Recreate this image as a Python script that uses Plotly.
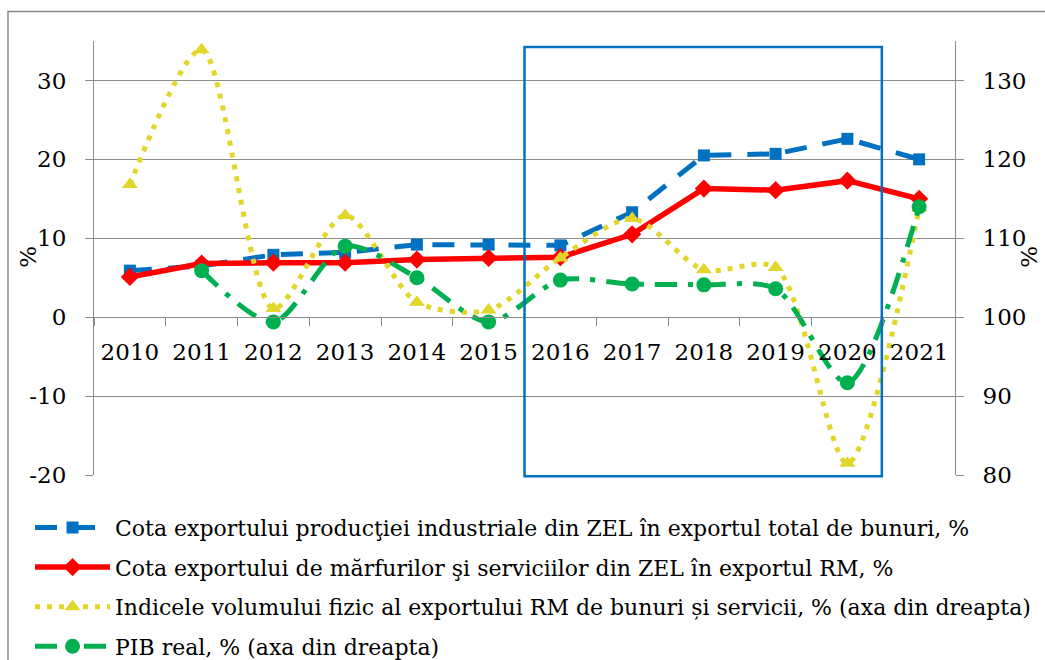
import plotly.graph_objects as go

years = ["2010", "2011", "2012", "2013", "2014", "2015", "2016", "2017", "2018", "2019", "2020", "2021"]
cota_productie = [5.9, 6.5, 7.9, 8.2, 9.2, 9.2, 9.1, 13.3, 20.5, 20.7, 22.6, 20.0]
cota_marfuri = [5.1, 6.8, 6.9, 6.9, 7.3, 7.5, 7.6, 10.5, 16.3, 16.1, 17.3, 15.0]
indice_volum = [116.8, 133.9, 101.1, 112.9, 101.9, 100.9, 107.5, 112.5, 106.0, 106.3, 81.5, 113.8]
pib_real = [None, 105.9, 99.4, 109.0, 105.0, 99.4, 104.7, 104.2, 104.1, 103.6, 91.7, 114.0]

left_ticks = [-20, -10, 0, 10, 20, 30]
left_ticktext = ["-20", "-10", "0", "10", "20", "30"]
right_ticks = [80, 90, 100, 110, 120, 130]
right_ticktext = ["80", "90", "100", "110", "120", "130"]

names = [
    "Cota exportului producţiei industriale din ZEL în exportul total de bunuri, %",
    "Cota exportului de mărfurilor şi serviciilor din ZEL în exportul RM, %",
    "Indicele volumului fizic al exportului RM de bunuri și servicii, % (axa din dreapta)",
    "PIB real, % (axa din dreapta)",
]

FONT = "DejaVu Serif"
GRID = "#8c8c8c"
BLUE = "#0070C0"
RED = "#FF0000"
YEL = "#E2D62A"
GRN = "#00B050"

fig = go.Figure()
fig.add_trace(go.Scatter(x=years, y=cota_productie, name=names[0], mode="lines+markers",
                         legendgroup="a",
                         line=dict(color=BLUE, width=5, dash="22px,16px"),
                         marker=dict(symbol="square", size=12, color=BLUE)))
fig.add_trace(go.Scatter(x=years, y=cota_marfuri, name=names[1], mode="lines+markers",
                         legendgroup="b",
                         line=dict(color=RED, width=5.5),
                         marker=dict(symbol="diamond", size=14, color=RED)))
fig.add_trace(go.Scatter(x=years, y=indice_volum, name=names[2], mode="lines+markers", yaxis="y2",
                         legendgroup="c",
                         line=dict(color=YEL, width=5, dash="5px,7px", shape="spline", smoothing=0.8),
                         marker=dict(symbol="triangle-up", size=14, color=YEL)))
fig.add_trace(go.Scatter(x=years, y=pib_real, name=names[3], mode="lines+markers", yaxis="y2",
                         legendgroup="d",
                         line=dict(color=GRN, width=5, dash="22px,11px,5px,11px", shape="spline", smoothing=0.8),
                         marker=dict(symbol="circle", size=15, color=GRN)))

fig.update_layout(
    width=1045, height=660,
    margin=dict(l=94, r=90, t=41, b=184.5, autoexpand=False),
    paper_bgcolor="white", plot_bgcolor="white",
    font=dict(family=FONT, size=23, color="black"),
    showlegend=True,
    legend=dict(orientation="v", x=-0.0743, xanchor="left", y=-0.073, yanchor="top",
                font=dict(family=FONT, size=22), itemwidth=75, bgcolor="rgba(0,0,0,0)",
                traceorder="grouped", tracegroupgap=8),
    xaxis=dict(type="category", range=[-0.5, 11.5], anchor="free", position=20 / 55,
               showgrid=False, showline=True, linecolor=GRID, linewidth=1,
               ticks="outside", ticklen=8, tickcolor=GRID, tickson="boundaries",
               tickfont=dict(size=23), ticklabelstandoff=14, automargin=False),
    yaxis=dict(range=[-20, 35], tickvals=left_ticks, ticktext=left_ticktext, showgrid=True,
               gridcolor=GRID, gridwidth=1, zeroline=False, showline=True, linecolor=GRID,
               ticks="outside", ticklen=8, tickcolor=GRID, tickfont=dict(size=23),
               ticklabelstandoff=14, automargin=False),
    yaxis2=dict(range=[80, 135], tickvals=right_ticks, ticktext=right_ticktext, overlaying="y",
                side="right", showgrid=False, zeroline=False, showline=True, linecolor=GRID,
                ticks="outside", ticklen=8, tickcolor=GRID, tickfont=dict(size=23),
                ticklabelstandoff=14, automargin=False),
    annotations=[
        dict(text="%", xref="paper", yref="paper", x=-0.0767, y=0.503, showarrow=False,
             textangle=-90, font=dict(size=23), xanchor="center", yanchor="middle"),
        dict(text="%", xref="paper", yref="paper", x=1.0860, y=0.503, showarrow=False,
             textangle=-90, font=dict(size=23), xanchor="center", yanchor="middle"),
    ],
    shapes=[
        dict(type="rect", xref="x", yref="paper", x0=5.5, x1=10.48, y0=-0.0028, y1=0.9862,
             line=dict(color=BLUE, width=2.5), layer="above"),
        dict(type="rect", xref="paper", yref="paper", x0=-0.0999, x1=1.12, y0=-0.45, y1=1.0678,
             line=dict(color="#8a8a8a", width=1.5), layer="below"),
    ],
)

fig.write_html("out.html", config={"displayModeBar": False},
               post_script="document.body.style.margin='0';document.body.style.overflow='hidden';")
